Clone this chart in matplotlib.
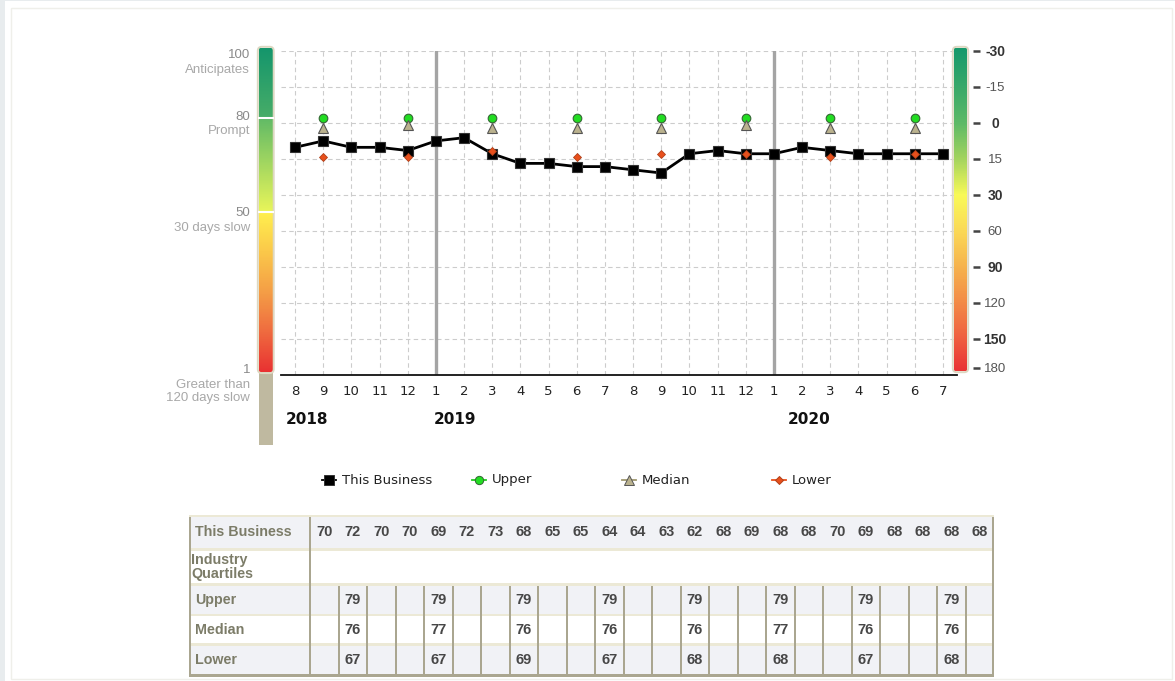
import matplotlib
matplotlib.use('Agg')
import matplotlib.pyplot as plt
import numpy as np
from matplotlib.colors import LinearSegmentedColormap
from matplotlib.patches import Rectangle, FancyBboxPatch
from matplotlib.lines import Line2D

# ---------------- data ----------------
months = [8, 9, 10, 11, 12, 1, 2, 3, 4, 5, 6, 7, 8, 9, 10, 11, 12, 1, 2, 3, 4, 5, 6, 7]
years = ['2018', '2019', '2020']
this_business = [70, 72, 70, 70, 69, 72, 73, 68, 65, 65, 64, 64,
                 63, 62, 68, 69, 68, 68, 70, 69, 68, 68, 68, 68]
upper = [None, 79, None, None, 79, None, None, 79, None, None, 79, None,
         None, 79, None, None, 79, None, None, 79, None, None, 79, None]
median = [None, 76, None, None, 77, None, None, 76, None, None, 76, None,
          None, 76, None, None, 77, None, None, 76, None, None, 76, None]
lower = [None, 67, None, None, 67, None, None, 69, None, None, 67, None,
         None, 68, None, None, 68, None, None, 67, None, None, 68, None]
left_values = [100, 80, 50, 1]
left_desc = ['Anticipates', 'Prompt', '30 days slow', 'Greater than\n120 days slow']
days_labels = ['-30', '-15', '0', '15', '30', '60', '90', '120', '150', '180']
days_bold = [True, False, True, False, True, False, True, False, True, False]
series_names = ['This Business', 'Upper', 'Median', 'Lower']
table_rows = ['Upper', 'Median', 'Lower']

W, H = 1175, 681
fig = plt.figure(figsize=(W / 100, H / 100), dpi=100)
fig.patch.set_facecolor('white')

def arr(v):
    return np.array([np.nan if a is None else a for a in v], dtype=float)

x = np.arange(len(months))

# ---------------- main axes ----------------
ax = fig.add_axes([281 / W, 1 - 375 / H, 676 / W, 324 / H])
ax.set_xlim(-0.5, len(months) - 0.5)
ax.set_ylim(-0.9, 100)
ax.set_xticks(x)
ax.set_xticklabels([str(m) for m in months], fontsize=9.5, color='#222222',
                   family='DejaVu Sans')
ax.tick_params(axis='x', length=0, pad=7.5)
ax.set_yticks([])
ax.grid(axis='x', color='#cccccc', linestyle=(0, (4, 3)), linewidth=0.8)
for s in ['left', 'right', 'top']:
    ax.spines[s].set_visible(False)
ax.spines['bottom'].set_color('#111111')
ax.spines['bottom'].set_linewidth(1.3)
for i, m in enumerate(months):
    if m == 1:
        ax.axvline(i, color='#a4a4a4', lw=2.4, zorder=2)

ax.plot(x, this_business, color='black', lw=2, marker='s', ms=7.8,
        mfc='black', mec='#333333', mew=0.8, zorder=3)
ax.plot(x, arr(upper), ls='none', marker='o', ms=6.2, mfc='#22dd22',
        mec='#336633', mew=0.8, zorder=4)
ax.plot(x, arr(median), ls='none', marker='^', ms=6.5, mfc='#bab28e',
        mec='#555555', mew=0.8, zorder=4)
ax.plot(x, arr(lower), ls='none', marker='D', ms=4.4, mfc='#e8501c',
        mec='#b0401a', mew=0.6, zorder=4)

# ---------------- right (days) axis ----------------
ax2 = ax.twinx()
ax2.set_ylim(9, 0)
ax2.set_yticks(range(9))
ax2.set_yticklabels(days_labels[:9])
ax2.set_yticks([8.8], minor=True)
ax2.set_yticklabels([days_labels[9]], minor=True)
ax2.grid(axis='y', which='major', color='#cccccc', linestyle=(0, (4, 3)), linewidth=0.8)
for s in ax2.spines.values():
    s.set_visible(False)
ax2.spines['right'].set_position(('outward', 11.5))
ax2.tick_params(axis='y', which='both', length=5, width=1.8, color='#444444',
                direction='out', pad=11, labelsize=9)
labels = list(ax2.get_yticklabels()) + list(ax2.get_yticklabels(minor=True))
for t, b in zip(labels, days_bold):
    t.set_ha('center')
    t.set_family(['Liberation Sans Narrow', 'Liberation Sans'])
    t.set_fontweight('bold' if b else 'normal')
    t.set_color('#333333' if b else '#555555')
    t.set_fontsize(10 if b else 9.5)
ax.set_zorder(ax2.get_zorder() + 1)
ax.patch.set_visible(False)

# ---------------- overlay (pixel coords) ----------------
ov = fig.add_axes([0, 0, 1, 1], zorder=10)
ov.set_xlim(0, W)
ov.set_ylim(H, 0)
ov.axis('off')

# page frame
ov.add_patch(Rectangle((0, 0), 5, H, fc='#e8ecee', ec='none'))
ov.add_patch(Rectangle((5, 0), W - 5, 1.2, fc='#e8ecee', ec='none'))
ov.add_patch(Rectangle((11, 8), 1161, 671, fill=False, ec='#efefea', lw=1))

fig.canvas.draw()
def py(v):
    return H - ax.transData.transform((0, v))[1]

# year labels (below month labels)
for i, m in enumerate(months):
    pass
year_px = [286, 434, 788]
for xp, yl in zip(year_px, years):
    ov.text(xp, 420, yl, fontsize=11, fontweight='bold', family='DejaVu Sans',
            color='#111111', ha='left', va='center')

# left colour bar
y_top, y_bot = 48, py(1) + 3
b80, b50 = py(80) + 3, py(50)
f80 = (b80 - y_top) / (y_bot - y_top)
f50 = (b50 - y_top) / (y_bot - y_top)
cmap_left = LinearSegmentedColormap.from_list('left', [
    (0.0, '#15966c'), (f80 - 0.002, '#48ad68'), (f80 + 0.002, '#63bb66'),
    (f50 - 0.002, '#e8f55a'), (f50 + 0.002, '#fff04e'), (0.63, '#fbc84a'),
    (0.76, '#f49c46'), (0.88, '#ef6a3f'), (1.0, '#e93232')])
grad = np.linspace(0, 1, 400).reshape(-1, 1)
ov.add_patch(Rectangle((259, y_bot), 14, 445 - y_bot, fc='#bfb9a0', ec='none'))
ov.add_patch(FancyBboxPatch((259, y_top), 13.5, y_bot - y_top,
                            boxstyle='round,pad=1.2,rounding_size=4',
                            fc='none', ec='#ddd8c2', lw=1.4))
ov.imshow(grad, extent=(259, 272.5, y_bot, y_top), aspect='auto', cmap=cmap_left,
          origin='upper', interpolation='bilinear')
for b in (b80, b50):
    ov.plot([259, 272.5], [b, b], color='white', lw=1.5)

for v, d in zip(left_values, left_desc):
    yy = max(py(v) + 1.5, 55)
    ov.text(250, yy, str(v), ha='right', va='center', fontsize=9.5,
            color='#8a8a8a', family='Liberation Sans')
    ov.text(250, yy + 8.5, d, ha='right', va='top', fontsize=9.5,
            color='#a8a8a8', family='Liberation Sans', linespacing=1.15)

# right colour bar
r_top, r_bot = 48, 371
def rf(k):
    return (H - ax2.transData.transform((0, k))[1] - r_top) / (r_bot - r_top)
right_cols = ['#17996c', '#3aa969', '#5eba66', '#a5d45d', '#f9fa57', '#fbd956',
              '#f6b34c', '#f38b46', '#ef5f3f', '#e93434']
stops = [(0.0, right_cols[0])]
for k in range(1, 9):
    stops.append((rf(k), right_cols[k]))
stops.append((1.0, right_cols[9]))
cmap_right = LinearSegmentedColormap.from_list('right', stops)
ov.add_patch(FancyBboxPatch((954, r_top), 13, r_bot - r_top,
                            boxstyle='round,pad=1.2,rounding_size=4',
                            fc='none', ec='#ddd8c2', lw=1.4))
ov.imshow(grad, extent=(954, 967, r_bot, r_top), aspect='auto', cmap=cmap_right,
          origin='upper', interpolation='bilinear')

# legend
leg_styles = [dict(color='black', marker='s', ms=7.5, mfc='black', mec='#333333'),
              dict(color='#22cc22', marker='o', ms=6, mfc='#22dd22', mec='#336633'),
              dict(color='#a09870', marker='^', ms=6.5, mfc='#bab28e', mec='#555555'),
              dict(color='#e8501c', marker='D', ms=4.5, mfc='#e8501c', mec='#b0401a')]
for i, (name, st) in enumerate(zip(series_names, leg_styles)):
    x0 = 322 + 150 * i
    ov.add_line(Line2D([x0, x0 + 14], [480, 480], lw=1.3, color=st['color']))
    ov.add_line(Line2D([x0 + 7], [480], ls='none', marker=st['marker'], ms=st['ms'],
                       mfc=st['mfc'], mec=st['mec'], mew=0.7))
    ov.text(x0 + 20, 480, name, ha='left', va='center', fontsize=9.5,
            family='DejaVu Sans', color='#222222')

# table
tl, lr, tr = 189, 310, 994
ncol = len(months)
cw = (tr - lr) / ncol
taupe = '#aaa690'
cream = '#ece9d6'
light = '#f1f2f6'
label_col = '#7c7c68'
val_col = '#474747'
row_geo = [(517, 548, light), (551, 583, 'white'), (586, 614, light),
           (616, 643, 'white'), (646, 674, light)]
for (y0, y1, c) in row_geo:
    ov.add_patch(Rectangle((tl, y0), tr - tl, y1 - y0, fc=c, ec='none'))
for (y0, y1) in [(515, 517), (548, 551), (583, 586), (614, 616), (643, 646)]:
    ov.add_patch(Rectangle((tl, y0), tr - tl, y1 - y0, fc=cream, ec='none'))
# borders
ov.add_patch(Rectangle((tl, 517), 2.2, 160, fc=taupe, ec='none'))
ov.add_patch(Rectangle((tr - 2.2, 517), 2.2, 160, fc=taupe, ec='none'))
ov.add_patch(Rectangle((tl, 674), tr - tl, 3, fc=taupe, ec='none'))
ov.add_patch(Rectangle((lr - 1, 517), 2.2, 160, fc=taupe, ec='none'))
for j in range(1, ncol):
    xx = lr + j * cw
    ov.add_patch(Rectangle((xx - 1, 586), 2, 88, fc=taupe, ec='none'))

lfont = dict(family='Liberation Sans', fontweight='bold', fontsize=10.3)
vfont = dict(family='Liberation Sans', fontweight='bold', fontsize=10.5)
ov.text(195, 532.5, series_names[0], ha='left', va='center', color=label_col, **lfont)
ov.text(191, 567, 'Industry\nQuartiles', ha='left', va='center', color=label_col,
        linespacing=0.95, **lfont)
for j, v in enumerate(this_business):
    ov.text(lr + (j + 0.5) * cw, 532.5, str(v), ha='center', va='center',
            color=val_col, **vfont)
for (name, vals, (y0, y1, _)) in zip(table_rows, [upper, median, lower], row_geo[2:]):
    yc = (y0 + y1) / 2
    ov.text(195, yc, name, ha='left', va='center', color=label_col, **lfont)
    for j, v in enumerate(vals):
        if v is not None:
            ov.text(lr + (j + 0.5) * cw, yc, str(v), ha='center', va='center',
                    color=val_col, **vfont)

ov.set_xlim(0, W)
ov.set_ylim(H, 0)

fig.savefig('out.png', dpi=100, facecolor='white')
